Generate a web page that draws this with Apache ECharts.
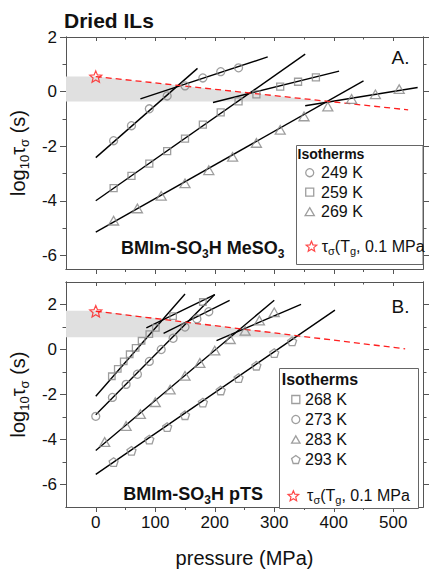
<!DOCTYPE html>
<html><head><meta charset="utf-8">
<script src="https://cdn.jsdelivr.net/npm/echarts@6/dist/echarts.min.js"></script>
<style>html,body{margin:0;padding:0;background:#fff}#c{width:431px;height:569px}</style>
</head><body><div id="c"></div>
<script>
const FONT = 'Liberation Sans, Arial, Helvetica, sans-serif';
const AXC = '#555555';
const MK = '#868686';

// ---- tick values ----
const xTicks = [0, 100, 200, 300, 400, 500];
const xMinor = [50, 150, 250, 350, 450];
const yTicks = [-6, -4, -2, 0, 2];
const yMinorA = [-5, -3, -1, 1];
const yMinorB = [-5, -3, -1, 1];

// ---- panel A: BMIm-SO3H MeSO3 ----
const pA249 = [30, 60, 90, 120, 150, 180, 210, 240];
const vA249 = [-1.8, -1.25, -0.63, -0.16, 0.21, 0.5, 0.73, 0.87];
const pA259 = [30, 60, 90, 120, 150, 180, 210, 240, 270, 310, 340, 370];
const vA259 = [-3.54, -3.09, -2.64, -2.18, -1.72, -1.21, -0.76, -0.36, -0.1, 0.18, 0.36, 0.52];
const pA269 = [30, 70, 110, 150, 190, 230, 270, 310, 350, 390, 430, 470, 510];
const vA269 = [-4.73, -4.28, -3.82, -3.36, -2.88, -2.39, -1.88, -1.4, -0.91, -0.55, -0.27, -0.1, 0.09];
const fitsA = [
  [[0, -2.42], [171, 0.85]],
  [[75, -0.27], [289, 1.27]],
  [[0, -4.0], [352, 1.37]],
  [[197, -0.4], [409, 0.75]],
  [[0, -5.15], [450, 0.39]],
  [[352, -0.52], [541, 0.15]]
];
const starA = [0, 0.55];
const dashA = [[0, 0.55], [525, -0.67]];
const bandA = [[-50, 0.55], [0, 0.55], [390, -0.36], [-50, -0.36]];

// ---- panel B: BMIm-SO3H pTS ----
const pB268 = [27, 37, 47, 57, 67, 77, 90, 101, 130, 180];
const vB268 = [-1.19, -0.86, -0.53, -0.21, 0.07, 0.39, 0.68, 0.96, 1.48, 2.11];
const pB273 = [0, 28, 51, 70, 90, 110, 130, 150, 170, 190];
const vB273 = [-2.97, -2.13, -1.55, -1.1, -0.53, 0.0, 0.5, 1.0, 1.36, 1.68];
const pB283 = [15, 51, 75, 100, 125, 150, 175, 200, 226, 251, 275, 300];
const vB283 = [-4.11, -3.4, -2.87, -2.34, -1.78, -1.17, -0.6, -0.05, 0.46, 0.83, 1.29, 1.65];
const pB293 = [30, 60, 90, 120, 150, 180, 210, 240, 270, 300, 330];
const vB293 = [-5.0, -4.5, -4.0, -3.45, -2.92, -2.36, -1.82, -1.27, -0.72, -0.16, 0.36];
const fitsB = [
  [[0, -2.08], [150, 2.47]],
  [[85, 0.96], [200, 2.44]],
  [[0, -2.9], [200, 2.44]],
  [[114, 0.72], [225, 2.18]],
  [[0, -4.49], [300, 2.19]],
  [[203, 0.39], [345, 2.01]],
  [[0, -5.55], [402, 1.75]]
];
const starB = [0, 1.7];
const dashB = [[0, 1.7], [520, 0.03]];
const bandB = [[-50, 1.72], [0, 1.72], [358, 0.55], [-50, 0.55]];

const SQ = 'path://M0,0 L10,0 L10,10 L0,10 Z';
const TRI = 'path://M5,0 L10,8.66 L0,8.66 Z';
const PENT = 'path://M50,0 L97.55,34.55 L79.39,90.45 L20.61,90.45 L2.45,34.55 Z';
const STAR = 'path://M50,0 L63.23,31.8 L97.55,34.55 L71.4,56.95 L79.39,90.45 L50,72.5 L20.61,90.45 L28.6,56.95 L2.45,34.55 L36.77,31.8 Z';
const STARNAME = '{a|τ}{b|σ}{a|(T}{b|g}{a|, 0.1 MPa}';

const zip = (xs, ys) => xs.map((x, i) => [x, ys[i]]);

function xAx(grid, pos, ticks, len, inside, labels, name) {
  return {
    type: 'value', gridIndex: grid, position: pos, min: -50, max: 550,
    axisLine: { show: true, onZero: false, lineStyle: { color: AXC, width: 1 } },
    axisTick: { show: true, inside: inside, length: len, customValues: ticks, lineStyle: { color: AXC, width: 1 } },
    axisLabel: { show: labels, customValues: ticks, margin: 7, fontSize: 17, color: '#111', fontFamily: FONT },
    splitLine: { show: false },
    name: name || '', nameLocation: 'middle', nameGap: 41,
    nameTextStyle: { fontSize: 20, color: '#111', fontFamily: FONT }
  };
}
function yAx(grid, pos, min, max, ticks, len, labels, withName) {
  return {
    type: 'value', gridIndex: grid, position: pos, min: min, max: max,
    axisLine: { show: true, onZero: false, lineStyle: { color: AXC, width: 1 } },
    axisTick: { show: true, inside: false, length: len, customValues: ticks, lineStyle: { color: AXC, width: 1 } },
    axisLabel: { show: labels, customValues: ticks, margin: 9, fontSize: 17, color: '#111', fontFamily: FONT },
    splitLine: { show: false },
    name: withName ? '{a|log}{b|10}{a|τ}{b|σ}{a| (s)}' : '',
    nameLocation: 'middle', nameRotate: 90, nameGap: 29,
    nameTextStyle: {
      color: '#111', fontFamily: FONT,
      rich: {
        a: { fontSize: 20, lineHeight: 26, fontFamily: FONT, color: '#111' },
        b: { fontSize: 13, lineHeight: 13, verticalAlign: 'bottom', fontFamily: FONT, color: '#111' }
      }
    }
  };
}

const xAxis = [
  xAx(0, 'bottom', xTicks, 5, false, false),
  xAx(0, 'bottom', xMinor, 3, false, false),
  xAx(0, 'top', xTicks, 4, true, false),
  xAx(0, 'top', xMinor, 2.5, true, false),
  xAx(1, 'bottom', xTicks, 5, false, true, 'pressure (MPa)'),
  xAx(1, 'bottom', xMinor, 3, false, false),
  xAx(1, 'top', xTicks, 4, true, false),
  xAx(1, 'top', xMinor, 2.5, true, false)
];
const yAxis = [
  yAx(0, 'left', -6.5, 2, yTicks, 6, true, true),
  yAx(0, 'left', -6.5, 2, yMinorA, 3.5, false, false),
  yAx(0, 'right', -6.5, 2, yTicks, 6, false, false),
  yAx(0, 'right', -6.5, 2, yMinorA, 3.5, false, false),
  yAx(1, 'left', -7, 3, yTicks, 6, true, true),
  yAx(1, 'left', -7, 3, yMinorB, 3.5, false, false),
  yAx(1, 'right', -7, 3, yTicks, 6, false, false),
  yAx(1, 'right', -7, 3, yMinorB, 3.5, false, false)
];

function band(pts, ai) {
  return {
    type: 'custom', xAxisIndex: ai, yAxisIndex: ai, silent: true, z: 1, clip: true,
    data: [pts[0]],
    renderItem: function (params, api) {
      return { type: 'polygon', shape: { points: pts.map(p => api.coord(p)) }, style: { fill: '#e0e0e0' } };
    }
  };
}
function fit(pts, ai) {
  return { type: 'line', xAxisIndex: ai, yAxisIndex: ai, data: pts, symbol: 'none', silent: true, z: 3,
    lineStyle: { color: '#000', width: 1.4 }, animation: false };
}
function dash(pts, ai) {
  return { type: 'line', xAxisIndex: ai, yAxisIndex: ai, data: pts, symbol: 'none', silent: true, z: 4,
    lineStyle: { color: '#ff2020', width: 1.3, type: [6, 4] }, animation: false };
}
function sc(name, data, ai, symbol, size) {
  return { type: 'scatter', name: name, xAxisIndex: ai, yAxisIndex: ai, data: data, symbol: symbol,
    symbolSize: size, symbolKeepAspect: true, z: 5,
    itemStyle: { color: 'none', borderColor: MK, borderWidth: 1.3 } };
}
function star(name, p, ai) {
  return { type: 'scatter', name: name, xAxisIndex: ai, yAxisIndex: ai, data: [p], symbol: STAR,
    symbolSize: 12, symbolKeepAspect: true, z: 6,
    itemStyle: { color: 'none', borderColor: '#ff1a1a', borderWidth: 1.2 } };
}

const series = [
  band(bandA, 0), band(bandB, 4),
  dash(dashA, 0), dash(dashB, 4),
  ...fitsA.map(f => fit(f, 0)),
  ...fitsB.map(f => fit(f, 4)),
  sc('249 K', zip(pA249, vA249), 0, 'circle', 8),
  sc('259 K', zip(pA259, vA259), 0, SQ, 7),
  sc('269 K', zip(pA269, vA269), 0, TRI, 10),
  star('starA', starA, 0),
  sc('268 K', zip(pB268, vB268), 4, SQ, 6.5),
  sc('273 K', zip(pB273, vB273), 4, 'circle', 8),
  sc('283 K', zip(pB283, vB283), 4, TRI, 10),
  sc('293 K', zip(pB293, vB293), 4, PENT, 9),
  star('starB', starB, 4)
];

const legTxt = { fontSize: 16, lineHeight: 16, color: '#111', fontFamily: FONT };
const starRich = {
  a: { fontSize: 16, lineHeight: 20, color: '#111', fontFamily: FONT },
  b: { fontSize: 11, lineHeight: 11, verticalAlign: 'bottom', color: '#111', fontFamily: FONT }
};
const legend = [
  { orient: 'vertical', left: 302.6, top: 164.7, padding: 0, itemGap: 3.5, itemWidth: 12.7, itemHeight: 8,
    selectedMode: false, z: 10,
    data: [{ name: '249 K', icon: 'circle' }, { name: '259 K', icon: SQ }, { name: '269 K', icon: TRI }],
    textStyle: legTxt, itemStyle: { color: 'none', borderColor: MK, borderWidth: 1.3 } },
  { orient: 'vertical', left: 303.7, top: 238.3, padding: 0, itemWidth: 10.6, itemHeight: 10,
    selectedMode: false, z: 10, data: [{ name: 'starA', icon: STAR }],
    formatter: () => STARNAME, textStyle: { rich: starRich },
    itemStyle: { color: 'none', borderColor: '#ff1a1a', borderWidth: 1.2 } },
  { orient: 'vertical', left: 289.1, top: 391.5, padding: 0, itemGap: 4, itemWidth: 8.4, itemHeight: 8,
    selectedMode: false, z: 10,
    data: [{ name: '268 K', icon: SQ }, { name: '273 K', icon: 'circle' }, { name: '283 K', icon: TRI }, { name: '293 K', icon: PENT }],
    textStyle: legTxt, itemStyle: { color: 'none', borderColor: MK, borderWidth: 1.3 } },
  { orient: 'vertical', left: 285.6, top: 487.7, padding: 0, itemWidth: 17.4, itemHeight: 10,
    selectedMode: false, z: 10, data: [{ name: 'starB', icon: STAR }],
    formatter: () => STARNAME, textStyle: { rich: starRich },
    itemStyle: { color: 'none', borderColor: '#ff1a1a', borderWidth: 1.2 } }
];

const compRich = {
  a: { fontSize: 18, fontWeight: 'bold', lineHeight: 24, fontFamily: FONT, fill: '#111' },
  b: { fontSize: 12, fontWeight: 'bold', lineHeight: 12, verticalAlign: 'bottom', fontFamily: FONT, fill: '#111' }
};
const graphic = [
  { type: 'text', z: 10, style: { x: 64, y: 20, text: 'Dried ILs', font: 'bold 21px ' + FONT, fill: '#111', verticalAlign: 'middle' } },
  { type: 'text', z: 10, style: { x: 391.5, y: 57.5, text: 'A.', font: '19px ' + FONT, fill: '#111', verticalAlign: 'middle' } },
  { type: 'text', z: 10, style: { x: 391.5, y: 306, text: 'B.', font: '19px ' + FONT, fill: '#111', verticalAlign: 'middle' } },
  { type: 'text', z: 10, style: { x: 121, y: 248.3, text: '{a|BMIm-SO}{b|3}{a|H MeSO}{b|3}', rich: compRich, verticalAlign: 'middle' } },
  { type: 'text', z: 10, style: { x: 123.3, y: 494.3, text: '{a|BMIm-SO}{b|3}{a|H pTS}', rich: compRich, verticalAlign: 'middle' } },
  { type: 'rect', z: 8, shape: { x: 296.5, y: 145.5, width: 126.5, height: 119 }, style: { fill: '#fff', stroke: '#666', lineWidth: 1 } },
  { type: 'rect', z: 8, shape: { x: 279.5, y: 368.5, width: 139, height: 140 }, style: { fill: '#fff', stroke: '#666', lineWidth: 1 } },
  { type: 'text', z: 10, style: { x: 297.5, y: 153.5, text: 'Isotherms', font: 'bold 14px ' + FONT, fill: '#111', verticalAlign: 'middle' } },
  { type: 'text', z: 10, style: { x: 281.7, y: 379.5, text: 'Isotherms', font: 'bold 16px ' + FONT, fill: '#111', verticalAlign: 'middle' } }
];

const chart = echarts.init(document.getElementById('c'), null, { renderer: 'svg' });
chart.setOption({
  animation: false,
  backgroundColor: '#fff',
  textStyle: { fontFamily: FONT },
  grid: [
    { left: 65, top: 37, width: 358, height: 232 },
    { left: 65, top: 282, width: 358, height: 232 }
  ],
  xAxis: xAxis,
  yAxis: yAxis,
  legend: legend,
  graphic: graphic,
  series: series
});
</script></body></html>
